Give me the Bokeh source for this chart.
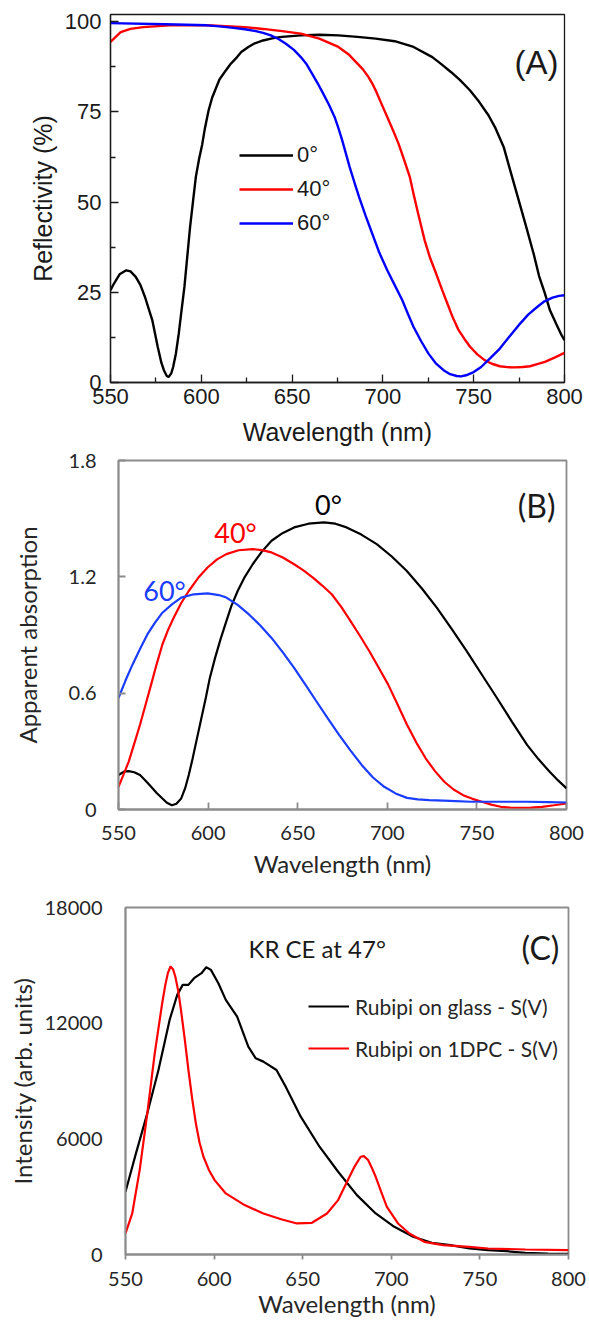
from bokeh.plotting import figure
from bokeh.models import Range1d, FixedTicker, Legend, LegendItem, Label
from bokeh.embed import file_html
from bokeh.resources import INLINE

# ---------------- (A) Reflectivity of the photonic crystal ----------------
a_wl_0 = [550, 552, 555, 558.7, 561, 563.9, 566.5, 569, 571, 573, 576, 578, 579.4, 581,
          582, 583.5, 584.5, 586, 587.6, 589, 590.7, 592.3, 593.8, 595.5, 597, 598.8,
          600.5, 602, 604, 606, 610, 613.5, 616, 619.7, 622, 625.9, 629, 634, 639, 644.5,
          654.8, 665, 675.5, 686, 696, 706.5, 716.9, 727.2, 732, 737.6, 742.5, 747.9,
          753, 758.2, 762, 766.5, 770, 774.8, 779, 783, 786, 789.2, 792, 795.4, 798, 800]
a_r_0 = [25.6, 27.5, 30.0, 31.1, 30.8, 29.3, 27.0, 23.7, 20.5, 17.3, 9.9, 5.5, 3.4, 1.8,
         1.5, 2.6, 4.3, 8.0, 13.6, 19.5, 26.5, 35.0, 43.0, 50.5, 57.0, 62.0,
         66.0, 70.5, 75.4, 79.0, 84.0, 86.5, 88.2, 90.2, 91.6, 93.0, 93.9, 94.8, 95.4, 95.8,
         96.2, 96.4, 96.2, 95.8, 95.3, 94.6, 93.0, 90.2, 88.3, 86.0, 83.8, 81.0,
         77.8, 74.0, 70.5, 65.3, 59.0, 50.5, 43.0, 35.7, 29.5, 24.7, 20.0, 16.3, 13.5, 11.7]

a_wl_40 = [550, 555.6, 561, 568, 582.5, 603, 623.8, 634, 644.5, 654.8, 665, 675.5, 681,
           686, 689, 692, 694, 696, 699, 702.4, 705.5, 708.6, 711.5, 714.8, 717, 719, 721,
           723, 726, 729.3, 732.5, 735.5, 738.5, 741.7, 745, 748, 752, 756, 760, 764.4,
           768.5, 772.7, 777, 781, 785, 789.2, 794.5, 800]
a_r_40 = [94.4, 97.1, 98.0, 98.5, 99.0, 99.0, 98.5, 98.0, 97.4, 96.7, 95.3, 93.0, 91.0,
          88.4, 86.8, 84.7, 83.0, 81.0, 77.5, 73.6, 70.0, 66.2, 62.0, 57.0, 52.0, 47.7, 43.5,
          39.4, 34.5, 30.2, 25.8, 21.9, 18.0, 14.5, 12.0, 9.9, 7.8, 6.2, 5.2, 4.5,
          4.25, 4.2, 4.3, 4.5, 5.1, 5.7, 6.9, 8.2]

a_wl_60 = [550, 580.4, 603, 610, 617.6, 624, 630, 634, 638.3, 642.5, 646.6, 651, 654.8, 658,
           661, 664, 667.2, 670.3, 673.4, 675.5, 677.6, 679.6, 681.7, 684.3, 686.9, 690.5,
           694.1, 698, 702.4, 706.5, 710.7, 713.8, 716.9, 721, 725.1, 729, 733.4, 737,
           740.7, 743, 745.8, 750, 754.1, 759, 764.4, 769.6, 774.8, 780, 785.1, 789,
           793.4, 797, 800]
a_r_60 = [99.6, 99.3, 99.0, 98.7, 98.3, 97.9, 97.4, 96.9, 96.2, 95.2, 93.9, 92.2, 90.2, 88.2,
          85.6, 83.0, 80.0, 77.0, 73.6, 70.5, 67.1, 63.5, 59.7, 55.5, 51.4, 46.2,
          41.3, 36.0, 31.1, 27.0, 22.8, 19.0, 15.4, 11.5, 8.0, 5.4, 3.4, 2.3,
          1.8, 1.7, 2.0, 2.9, 4.3, 6.7, 9.4, 12.7, 15.9, 18.8, 21.0, 22.5,
          23.5, 24.0, 24.2]

a_xticks = [550, 600, 650, 700, 750, 800]
a_yticks = [0, 25, 50, 75, 100]
a_labels = ["0°", "40°", "60°"]

# ---------------- (B) Apparent absorption ----------------
b_wl_0 = [550, 553, 555.7, 558.8, 562, 565, 568.2, 571.3, 574.5, 577, 579.8, 582.3, 585,
          587.2, 589.2, 591.3, 593.4, 596, 598.7, 601, 603.9, 607, 610.2, 613, 616.5,
          620.5, 624.9, 630, 635.4, 641.5, 648, 656, 664.7, 671, 677.3, 685.5, 694.1,
          702.5, 710.9, 719.3, 727.6, 736, 744.4, 752.8, 761.2, 769.6, 778, 784.3, 790.6,
          795.3, 800]
b_a_0 = [0.178, 0.195, 0.198, 0.192, 0.178, 0.15, 0.117, 0.085, 0.057, 0.035, 0.022, 0.03,
         0.057, 0.11, 0.178, 0.26, 0.35, 0.46, 0.575, 0.68, 0.782, 0.88, 0.972, 1.05, 1.127,
         1.2, 1.265, 1.33, 1.386, 1.425, 1.455, 1.474, 1.481, 1.474, 1.455, 1.418, 1.369,
         1.305, 1.23, 1.14, 1.041, 0.93, 0.816, 0.695, 0.575, 0.452, 0.333, 0.26, 0.195,
         0.15, 0.109]

b_wl_40 = [550, 552.8, 555.7, 558.8, 562, 565.1, 568.2, 571.3, 574.5, 577.6, 580.8, 585,
           589.2, 594.5, 599.7, 605, 610.2, 617, 624.9, 630, 635.4, 641.7, 648, 653.2,
           658.5, 663.7, 669, 674.3, 679.5, 684.7, 690, 695.3, 700.5, 705.8, 711, 716.2,
           721.4, 726.6, 731.8, 737, 742.3, 747.5, 752.8, 758, 763.3, 768.5, 773.8, 780,
           786.4, 793, 800]
b_a_40 = [0.117, 0.18, 0.247, 0.34, 0.437, 0.54, 0.644, 0.75, 0.851, 0.925, 0.989, 1.065,
          1.127, 1.195, 1.248, 1.29, 1.317, 1.337, 1.343, 1.338, 1.326, 1.3, 1.265, 1.233,
          1.196, 1.155, 1.11, 1.045, 0.972, 0.896, 0.816, 0.73, 0.644, 0.54, 0.437, 0.345,
          0.264, 0.198, 0.143, 0.103, 0.074, 0.055, 0.04, 0.025, 0.014, 0.01, 0.009, 0.01,
          0.014, 0.022, 0.031]

b_wl_60 = [550, 553.9, 557.8, 562, 566.1, 570.3, 574.5, 579.8, 585, 592, 599.7, 606, 610.2,
           616.5, 622.8, 629, 635.4, 641.7, 648, 654.2, 660.5, 666.8, 673.1, 679.4, 685.7,
           692, 698.3, 704.6, 711, 717, 723.4, 735, 746.5, 762, 778, 790, 800]
b_a_60 = [0.575, 0.665, 0.747, 0.828, 0.903, 0.963, 1.015, 1.058, 1.093, 1.11, 1.115, 1.106,
          1.093, 1.055, 1.006, 0.95, 0.885, 0.81, 0.73, 0.645, 0.557, 0.47, 0.385, 0.305,
          0.23, 0.165, 0.117, 0.083, 0.06, 0.052, 0.048, 0.044, 0.04, 0.04, 0.04, 0.038,
          0.036]

b_xticks = [550, 600, 650, 700, 750, 800]
b_yticks = [0, 0.6, 1.2, 1.8]
b_ytick_labels = ["0", "0.6", "1.2", "1.8"]

# ---------------- (C) Emission spectra ----------------
c_wl_glass = [550, 555.9, 562.3, 568.6, 574.9, 579.2, 582.3, 585.5, 588.7, 592.9, 595.6,
              598.2, 602.4, 606.6, 613, 619.3, 623.5, 627.8, 635.2, 640.4, 648.9, 659.5,
              670, 680.6, 691.2, 701.7, 712.3, 722.9, 733.4, 744, 754.6, 765.1, 775.7,
              788.4, 800]
c_i_glass = [3254, 5245, 7322, 9572, 12169, 13467, 13986, 13986, 14333, 14592, 14904,
             14766, 14073, 13208, 12342, 10784, 10178, 10005, 9572, 8707, 7149, 5591,
             4293, 3081, 2129, 1437, 917, 606, 485, 312, 225, 173, 87,
             52, 35]

c_wl_dpc = [550, 553.8, 558, 562.3, 566.5, 570.7, 572.5, 573.9, 575.4, 576.8, 578.1, 579.7,
            581.3, 583.4, 585.5, 587.6, 589.7, 591.8, 594, 597, 600.3, 606.6, 617.2, 627.8,
            638.3, 646.8, 655.2, 663.7, 670, 676.4, 679.5, 682.7, 684.5, 686.9, 689, 691.2,
            694.3, 697.5, 703.8, 710.2, 718.6, 729.2, 744, 754.6, 775.7, 800]
c_i_dpc = [1090, 2129, 4379, 7322, 10437, 13034, 14000, 14592, 14938, 14800, 14419, 13700,
           12688, 11200, 9572, 8100, 6802, 5800, 5072, 4400, 3860, 3168, 2562, 2129,
           1818, 1610, 1644, 2129, 2822, 4033, 4600, 5072, 5100, 4899, 4500, 4033,
           3250, 2475, 1610, 1090, 658, 485, 398, 312, 260, 225]

c_xticks = [550, 600, 650, 700, 750, 800]
c_yticks = [0, 6000, 12000, 18000]
c_labels = ["Rubipi on glass - S(V)", "Rubipi on 1DPC - S(V)"]

ARIAL = "Liberation Sans"
SANS = "Lato"


def base_figure(height, left, right, top, bottom, yr):
    p = figure(width=589, height=height, x_range=Range1d(550, 800), y_range=yr,
               min_border_left=left, min_border_right=right,
               min_border_top=top, min_border_bottom=bottom,
               output_backend="svg", toolbar_location=None, tools="")
    p.grid.visible = False
    p.background_fill_color = "white"
    p.border_fill_color = "white"
    return p


def style_axis(ax, font, tick_size, title_size, color, line_color, line_width):
    ax.major_label_text_font = font
    ax.major_label_text_font_size = tick_size
    ax.major_label_text_color = color
    ax.axis_label_text_font = font
    ax.axis_label_text_font_size = title_size
    ax.axis_label_text_font_style = "normal"
    ax.axis_label_text_color = color
    ax.axis_line_color = line_color
    ax.axis_line_width = line_width
    ax.major_tick_line_color = line_color
    ax.minor_tick_line_color = line_color
    ax.major_tick_line_width = line_width
    ax.minor_tick_line_width = line_width


# ---------- panel A ----------
pa = base_figure(452, 110, 25, 14, 70, Range1d(0, 102))
pa.outline_line_color = "#1a1a1a"
pa.outline_line_width = 1.3
ra0 = pa.line(a_wl_0, a_r_0, line_color="black", line_width=2.4)
ra40 = pa.line(a_wl_40, a_r_40, line_color="red", line_width=2.4)
ra60 = pa.line(a_wl_60, a_r_60, line_color="blue", line_width=2.4)
pa.xaxis.ticker = FixedTicker(ticks=a_xticks,
                              minor_ticks=[(a + b) / 2 for a, b in zip(a_xticks[:-1], a_xticks[1:])])
pa.yaxis.ticker = FixedTicker(ticks=a_yticks,
                              minor_ticks=[(a + b) / 2 for a, b in zip(a_yticks[:-1], a_yticks[1:])])
for ax in (pa.xaxis[0], pa.yaxis[0]):
    style_axis(ax, ARIAL, "22px", "25px", "#1a1a1a", "#1a1a1a", 1.3)
    ax.major_tick_in = 8
    ax.major_tick_out = 0
    ax.minor_tick_in = 5
    ax.minor_tick_out = 0
pa.xaxis.axis_label = "Wavelength (nm)"
pa.yaxis.axis_label = "Reflectivity (%)"
pa.xaxis.major_label_standoff = 6
pa.xaxis.axis_label_standoff = 11
pa.yaxis.major_label_standoff = 9
pa.yaxis.axis_label_standoff = 5
leg_a = Legend(items=[LegendItem(label=t, renderers=[r]) for t, r in zip(a_labels, [ra0, ra40, ra60])],
               location=(129, 146), padding=0, margin=0, spacing=8,
               glyph_width=54, glyph_height=24, label_height=24, label_standoff=4,
               border_line_color=None, background_fill_alpha=0,
               label_text_font=ARIAL, label_text_font_size="22px", label_text_color="#1a1a1a")
pa.add_layout(leg_a)
pa.add_layout(Label(x=784.6, y=88.6, text="(A)", text_font=ARIAL, text_font_size="33px",
                    text_align="center", text_baseline="middle", text_color="#1a1a1a"))

# ---------- panel B ----------
# its canvas starts a little above the end of panel A, with a transparent border,
# so the top tick label has room without hiding the title above it
FRAME = "#8c8c8c"
pb = base_figure(450, 118, 23, 20, 81, Range1d(0, 1.8))
pb.margin = (-12, 0, 0, 0)
pb.border_fill_alpha = 0
pb.outline_line_color = FRAME
pb.outline_line_width = 1.8
pb.line(b_wl_0, b_a_0, line_color="black", line_width=2.2)
pb.line(b_wl_40, b_a_40, line_color="#ff0000", line_width=2.2)
pb.line(b_wl_60, b_a_60, line_color="#1a3dff", line_width=2.2)
pb.xaxis.ticker = FixedTicker(ticks=b_xticks)
pb.yaxis.ticker = FixedTicker(ticks=b_yticks)
pb.yaxis.major_label_overrides = dict(zip(b_yticks, b_ytick_labels))
for ax in (pb.xaxis[0], pb.yaxis[0]):
    style_axis(ax, SANS, "20px", "24px", "#262626", FRAME, 1.8)
    ax.major_tick_in = 7
    ax.major_tick_out = 0
    ax.minor_tick_in = 0
    ax.minor_tick_out = 0
pb.xaxis.axis_label = "Wavelength (nm)"
pb.yaxis.axis_label = "Apparent absorption"
pb.xaxis.major_label_standoff = 16
pb.xaxis.axis_label_standoff = 6
pb.yaxis.major_label_standoff = 22
pb.yaxis.axis_label_standoff = 24
for x, y, t, c in [(667.2, 1.573, "0°", "black"), (615.3, 1.429, "40°", "#ff0000"),
                   (575.7, 1.129, "60°", "#1a3dff")]:
    pb.add_layout(Label(x=x, y=y, text=t, text_font=SANS, text_font_size="27px",
                        text_align="center", text_baseline="middle", text_color=c))
pb.add_layout(Label(x=783.3, y=1.568, text="(B)", text_font=SANS, text_font_size="32px",
                    text_align="center", text_baseline="middle", text_color="#1a1a1a"))

# ---------- panel C ----------
pc = base_figure(436, 125, 21, 17, 72, Range1d(0, 18000))
pc.outline_line_color = FRAME
pc.outline_line_width = 1.8
rc_g = pc.line(c_wl_glass, c_i_glass, line_color="black", line_width=2.2)
rc_d = pc.line(c_wl_dpc, c_i_dpc, line_color="#ff0000", line_width=2.2)
pc.xaxis.ticker = FixedTicker(ticks=c_xticks)
pc.yaxis.ticker = FixedTicker(ticks=c_yticks)
for ax in (pc.xaxis[0], pc.yaxis[0]):
    style_axis(ax, SANS, "20px", "24px", "#262626", FRAME, 1.8)
    ax.minor_tick_in = 0
    ax.minor_tick_out = 0
pc.xaxis.major_tick_in = 0
pc.xaxis.major_tick_out = 5
pc.yaxis.major_tick_in = 0
pc.yaxis.major_tick_out = 0
pc.xaxis.axis_label = "Wavelength (nm)"
pc.yaxis.axis_label = "Intensity (arb. units)"
pc.xaxis.major_label_standoff = 12
pc.xaxis.axis_label_standoff = 0
pc.yaxis.major_label_standoff = 23
pc.yaxis.axis_label_standoff = 5
leg_c = Legend(items=[LegendItem(label=t, renderers=[r]) for t, r in zip(c_labels, [rc_g, rc_d])],
               location=(183, 193), padding=0, margin=0, spacing=16,
               glyph_width=41, glyph_height=26, label_height=26, label_standoff=6,
               border_line_color=None, background_fill_alpha=0,
               label_text_font=SANS, label_text_font_size="21px", label_text_color="#262626")
pc.add_layout(leg_c)
pc.add_layout(Label(x=619.4, y=15873, text="KR CE at 47°", text_font=SANS, text_font_size="24px",
                    text_align="left", text_baseline="middle", text_color="#1a1a1a"))
pc.add_layout(Label(x=784.2, y=15925, text="(C)", text_font=SANS, text_font_size="32px",
                    text_align="center", text_baseline="middle", text_color="#1a1a1a"))

# three independent roots, so each panel keeps its own frame position
open("out.html", "w").write(file_html([pa, pb, pc], INLINE))
